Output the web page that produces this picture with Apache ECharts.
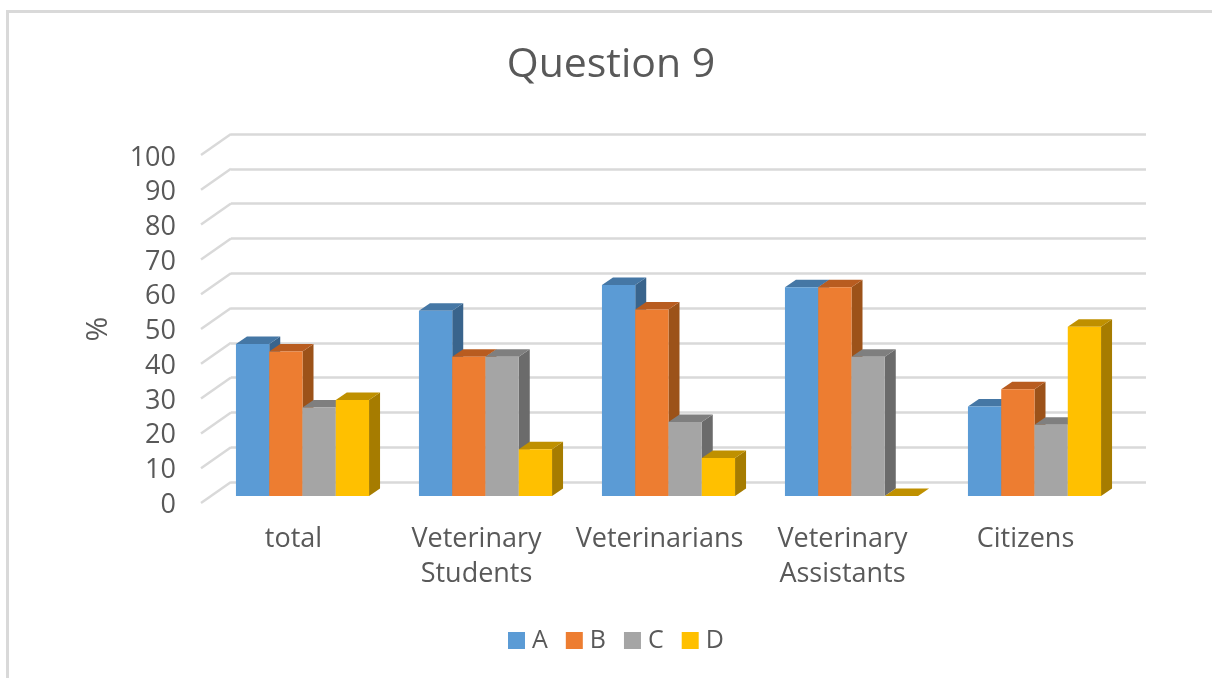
<!DOCTYPE html>
<html>
<head>
<meta charset="utf-8">
<title>Question 9</title>
<style>
html, body { margin: 0; padding: 0; background: #fff; }
#chart { width: 1212px; height: 678px; }
</style>
<script src="https://cdn.jsdelivr.net/npm/echarts@6/dist/echarts.min.js"></script>
</head>
<body>
<div id="chart"></div>
<script>
const categories = ['total', 'Veterinary\nStudents', 'Veterinarians', 'Veterinary\nAssistants', 'Citizens']
const valuesA = [43.7, 53.2, 60.6, 60, 25.7]
const valuesB = [41.5, 40, 53.6, 60, 30.7]
const valuesC = [25.4, 40, 21.3, 40, 20.5]
const valuesD = [27.6, 13.4, 10.9, 0, 48.6]
const yTicks = [0, 10, 20, 30, 40, 50, 60, 70, 80, 90, 100]

const font = '"Open Sans", "Noto Sans", sans-serif'
const textColor = '#595959'
const lineColor = '#d9d9d9'

// wall depth of the fake 3D plot, in px
const wallDx = 30
const wallDy = -21
// bars stand a third of the way into the floor
const barDx = 10
const barDy = -7
const depthDx = 11
const depthDy = -7.5

const bar3d = (seriesIndex, colors) => (params, api) => {
  const p = api.coord([api.value(0), api.value(1)])
  const base = api.coord([api.value(0), 0])
  const w = api.size([1, 0])[0] / 5.5
  const x0 = p[0] + barDx + (seriesIndex - 2) * w
  const x1 = x0 + w
  const top = p[1] + barDy
  const bottom = base[1] + barDy
  return {
    type: 'group',
    children: [
      {
        type: 'polygon',
        shape: { points: [[x1, top], [x1 + depthDx, top + depthDy], [x1 + depthDx, bottom + depthDy], [x1, bottom]] },
        style: { fill: colors[2] },
      },
      {
        type: 'polygon',
        shape: { points: [[x0, top], [x0 + depthDx, top + depthDy], [x1 + depthDx, top + depthDy], [x1, top]] },
        style: { fill: colors[1] },
      },
      {
        type: 'rect',
        shape: { x: x0, y: top, width: w, height: bottom - top },
        style: { fill: colors[0] },
      },
    ],
  }
}

const barSeries = (name, values, seriesIndex, colors) => ({
  name,
  type: 'custom',
  xAxisIndex: 0,
  yAxisIndex: 0,
  silent: true,
  itemStyle: { color: colors[0] },
  encode: { x: 0, y: 1 },
  data: values.map((v, i) => [i, v]),
  renderItem: bar3d(seriesIndex, colors),
  z: 5 + seriesIndex,
})

const chart = echarts.init(document.getElementById('chart'), null, { renderer: 'canvas' })
chart.setOption({
  animation: false,
  backgroundColor: '#fff',
  title: {
    text: 'Question 9',
    left: 606,
    top: 40,
    textAlign: 'center',
    textStyle: { fontFamily: font, fontSize: 41, fontWeight: 'normal', color: textColor },
  },
  legend: {
    data: ['A', 'B', 'C', 'D'],
    left: 503,
    top: 623,
    icon: 'rect',
    itemWidth: 17,
    itemHeight: 17,
    itemGap: 18,
    textStyle: { fontFamily: font, fontSize: 25, color: textColor, padding: [0, 0, 0, 2] },
  },
  grid: [
    // front plane, carries the bars
    { left: 201, right: 96, top: 155, bottom: 175 },
    // back wall, carries the horizontal gridlines
    { left: 231, right: 66, top: 134, bottom: 196 },
    // tick labels sit a little lower than the front plane
    { left: 201, right: 96, top: 158, bottom: 173 },
  ],
  xAxis: [
    {
      type: 'category',
      gridIndex: 0,
      data: categories,
      axisTick: { show: false },
      axisLine: { show: false },
      axisLabel: { margin: 19, lineHeight: 35, padding: [0, 0, 0, 2], fontFamily: font, fontSize: 27, color: textColor, interval: 0 },
    },
    { type: 'category', gridIndex: 1, data: categories, show: false },
    { type: 'category', gridIndex: 2, data: categories, show: false },
  ],
  yAxis: [
    {
      type: 'value',
      gridIndex: 0,
      min: 0,
      max: 100,
      interval: 10,
      name: '%',
      nameLocation: 'middle',
      nameRotate: 90,
      nameGap: 88,
      nameTextStyle: { fontFamily: font, fontSize: 30, color: textColor },
      axisTick: { show: false },
      axisLine: { show: false },
      splitLine: { show: false },
      axisLabel: { show: false },
    },
    {
      type: 'value',
      gridIndex: 1,
      min: 0,
      max: 100,
      interval: 10,
      axisTick: { show: false },
      axisLine: { show: false },
      axisLabel: { show: false },
      splitLine: { lineStyle: { color: lineColor, width: 2.5 } },
    },
    {
      type: 'value',
      gridIndex: 2,
      min: 0,
      max: 100,
      interval: 10,
      axisTick: { show: false },
      axisLine: { show: false },
      splitLine: { show: false },
      axisLabel: { margin: 25, fontFamily: font, fontSize: 27, color: textColor },
    },
  ],
  series: [
    {
      // diagonal gridlines on the side wall
      type: 'custom',
      xAxisIndex: 0,
      yAxisIndex: 0,
      silent: true,
      data: yTicks.map((v) => [0, v]),
      encode: { y: 1 },
      renderItem: (params, api) => {
        const y = api.coord([0, api.value(1)])[1]
        const x = params.coordSys.x
        return {
          type: 'line',
          shape: { x1: x, y1: y, x2: x + wallDx, y2: y + wallDy },
          style: { stroke: lineColor, lineWidth: 2.5 },
        }
      },
      z: 1,
    },
    barSeries('A', valuesA, 0, ['#5b9bd5', '#4577a5', '#39648c']),
    barSeries('B', valuesB, 1, ['#ed7d31', '#b85c20', '#9c5219']),
    barSeries('C', valuesC, 2, ['#a5a5a5', '#7f7f7f', '#6b6b6b']),
    barSeries('D', valuesD, 3, ['#ffc000', '#bf9000', '#a67c00']),
  ],
  graphic: [
    // the screenshot's frame, top and left only
    { type: 'line', shape: { x1: 6, y1: 11.5, x2: 1212, y2: 11.5 }, style: { stroke: lineColor, lineWidth: 3 } },
    { type: 'line', shape: { x1: 7.5, y1: 10, x2: 7.5, y2: 678 }, style: { stroke: lineColor, lineWidth: 3 } },
  ],
})
</script>
</body>
</html>
